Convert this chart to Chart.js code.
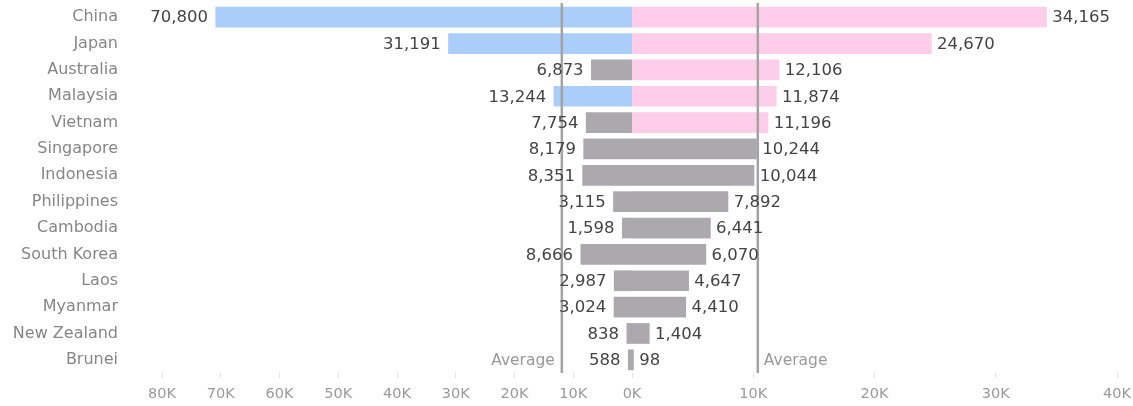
<!DOCTYPE html>
<html>
<head>
<meta charset="utf-8">
<script src="https://cdn.jsdelivr.net/npm/chart.js@4.4.1/dist/chart.umd.min.js"></script>
<style>
  body { margin: 0; background: #fff; }
  #wrap { position: relative; width: 1133px; height: 406px; }
  #leftBox { position: absolute; left: 0; top: 0; width: 632px; height: 406px; }
  #rightBox { position: absolute; left: 600px; top: 0; width: 533px; height: 406px; }
</style>
</head>
<body>
<div id="wrap">
  <div id="leftBox"><canvas id="leftChart"></canvas></div>
  <div id="rightBox"><canvas id="rightChart"></canvas></div>
</div>
<script>
const countries = ['China', 'Japan', 'Australia', 'Malaysia', 'Vietnam', 'Singapore', 'Indonesia',
  'Philippines', 'Cambodia', 'South Korea', 'Laos', 'Myanmar', 'New Zealand', 'Brunei'];
const leftValues = [70800, 31191, 6873, 13244, 7754, 8179, 8351, 3115, 1598, 8666, 2987, 3024, 838, 588];
const rightValues = [34165, 24670, 12106, 11874, 11196, 10244, 10044, 7892, 6441, 6070, 4647, 4410, 1404, 98];
const leftTicks = [0, 10000, 20000, 30000, 40000, 50000, 60000, 70000, 80000];
const rightTicks = [0, 10000, 20000, 30000, 40000];

const fontName = '"DejaVu Sans", sans-serif';
const blue = '#aacdfa';
const pink = '#fecde9';
const gray = '#aba9ae';
const lineGray = '#a3a3a3';

function average(arr) {
  return arr.reduce((a, b) => a + b, 0) / arr.length;
}
const leftAvg = average(leftValues);
const rightAvg = average(rightValues);

function kLabel(v) {
  return (v / 1000) + 'K';
}

// value labels + average line
function makeOverlay(side, avg) {
  return {
    id: 'overlay_' + side,
    afterDatasetsDraw(chart) {
      const ctx = chart.ctx;
      const area = chart.chartArea;
      const x = chart.scales.x.getPixelForValue(avg);
      ctx.save();
      ctx.strokeStyle = lineGray;
      ctx.lineWidth = 2.5;
      ctx.beginPath();
      ctx.moveTo(x, area.top - 1);
      ctx.lineTo(x, area.bottom);
      ctx.stroke();

      const meta = chart.getDatasetMeta(0);
      const values = chart.data.datasets[0].data;
      ctx.font = '16.5px ' + fontName;
      ctx.fillStyle = '#444';
      ctx.textBaseline = 'middle';
      meta.data.forEach((bar, i) => {
        const txt = values[i].toLocaleString('en-US');
        if (side === 'left') {
          ctx.textAlign = 'right';
          ctx.fillText(txt, bar.x - 8, bar.y + 1);
        } else {
          ctx.textAlign = 'left';
          ctx.fillText(txt, bar.x + 6, bar.y + 1);
        }
      });

      const last = meta.data[meta.data.length - 1];
      ctx.font = '15.5px ' + fontName;
      ctx.fillStyle = '#999';
      if (side === 'left') {
        ctx.textAlign = 'right';
        ctx.fillText('Average', x - 7, last.y + 1);
      } else {
        ctx.textAlign = 'left';
        ctx.fillText('Average', x + 6, last.y + 1);
      }
      ctx.restore();
    }
  };
}

function xAxis(ticks, reverse, showZero) {
  return {
    type: 'linear',
    reverse: reverse,
    min: 0,
    max: ticks[ticks.length - 1],
    afterBuildTicks: s => { s.ticks = ticks.map(v => ({ value: v })); },
    afterFit: s => {
      s.height = 33;
      s.paddingLeft = 0;
      s.paddingRight = 0;
    },
    ticks: {
      color: '#9a9a9a',
      font: { family: fontName, size: 14.5 },
      padding: 8,
      maxRotation: 0,
      autoSkip: false,
      callback: v => (v === 0 && !showZero) ? '' : kLabel(v)
    },
    grid: {
      drawOnChartArea: false,
      drawTicks: true,
      tickLength: 5,
      color: '#e2e2e2'
    },
    border: { display: false }
  };
}

const barStyle = {
  borderWidth: 0,
  inflateAmount: 0.6,
  barPercentage: 0.74,
  categoryPercentage: 1
};

new Chart(document.getElementById('leftChart'), {
  type: 'bar',
  data: {
    labels: countries,
    datasets: [Object.assign({
      data: leftValues,
      backgroundColor: leftValues.map(v => v > leftAvg ? blue : gray)
    }, barStyle)]
  },
  options: {
    indexAxis: 'y',
    responsive: true,
    maintainAspectRatio: false,
    animation: false,
    layout: { padding: { top: 4, right: 0, left: 0, bottom: 0 } },
    plugins: { legend: { display: false }, tooltip: { enabled: false } },
    scales: {
      x: xAxis(leftTicks, true, false),
      y: {
        type: 'category',
        afterFit: s => {
          s.width = 162;
          s.paddingTop = 0;
          s.paddingBottom = 0;
        },
        ticks: {
          color: '#868686',
          font: { family: fontName, size: 16 },
          padding: 44
        },
        grid: { display: false, drawTicks: false },
        border: { display: false }
      }
    }
  },
  plugins: [makeOverlay('left', leftAvg)]
});

new Chart(document.getElementById('rightChart'), {
  type: 'bar',
  data: {
    labels: countries,
    datasets: [Object.assign({
      data: rightValues,
      backgroundColor: rightValues.map(v => v > rightAvg ? pink : gray)
    }, barStyle)]
  },
  options: {
    indexAxis: 'y',
    responsive: true,
    maintainAspectRatio: false,
    animation: false,
    layout: { padding: { top: 4, right: 16, left: 32, bottom: 0 } },
    plugins: { legend: { display: false }, tooltip: { enabled: false } },
    scales: {
      x: xAxis(rightTicks, false, true),
      y: {
        type: 'category',
        display: false
      }
    }
  },
  plugins: [makeOverlay('right', rightAvg)]
});
</script>
</body>
</html>
